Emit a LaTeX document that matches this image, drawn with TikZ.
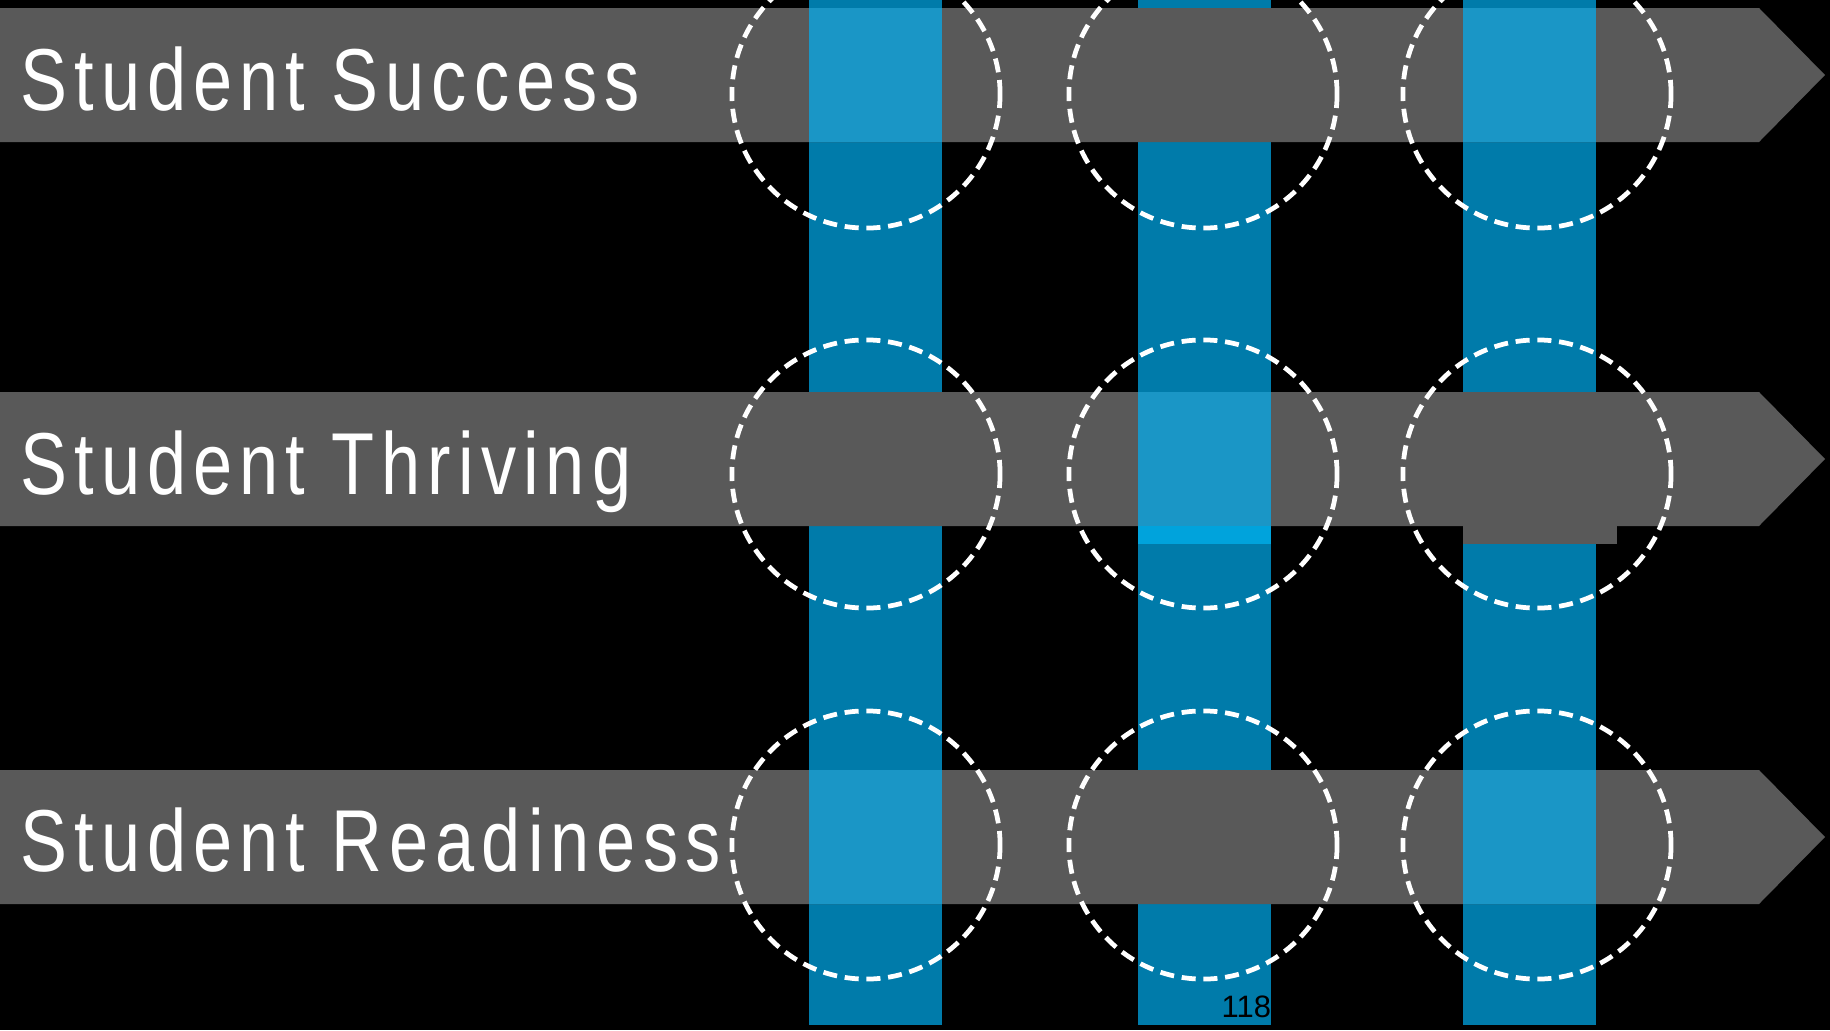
\documentclass[tikz,border=0pt]{standalone}
\usepackage{fontspec}
\setmainfont{Liberation Sans}
\newfontfamily\barfont[FakeStretch=0.8, LetterSpace=8]{Liberation Sans}
\usepackage{tikz}
\definecolor{bargray}{HTML}{595959}
\definecolor{coldark}{HTML}{007BAA}
\definecolor{collight}{HTML}{1A96C6}
\definecolor{colbright}{HTML}{00A3DC}
\tikzset{
    barlabel/.style={anchor=base west, inner sep=0pt, text=white,
        font=\barfont\fontsize{25}{30}\selectfont},
    ring/.style={draw=white, line width=1.35pt, dash pattern=on 4pt off 2.2pt}
}

\begin{document}
\begin{tikzpicture}[x=0.01cm, y=-0.01cm]
    \useasboundingbox (0,0) rectangle (1830,1030);
    \clip (0,0) rectangle (1830,1030);
    \fill[black] (0,0) rectangle (1830,1030);
    \foreach \cx in {809,1138,1463}
        \fill[coldark] (\cx,0) rectangle ++(133,1025);
    \foreach \by in {8,392,770}
        \fill[bargray] (0,\by) -- (1759,\by) -- (1825,\by+67) -- (1759,\by+134) -- (0,\by+134) -- cycle;
    \foreach \cx/\by in {809/8, 1463/8, 1138/392, 809/770, 1463/770}
        \fill[collight] (\cx,\by) rectangle ++(133,134);
    \fill[colbright] (1138,526) rectangle (1271,544);
    \fill[bargray] (1463,392) rectangle (1617,544);
    \foreach \cx in {866,1203,1537}
        \foreach \cy in {94,474,845}
            \draw[ring] (\cx,\cy) circle[radius=1.34cm];
    \node[barlabel] (success) at (20,110) {Student Success};
    \node[barlabel] (thriving) at (20,494) {Student Thriving};
    \node[barlabel] (readiness) at (20,871) {Student Readiness};
    \node[anchor=base west, inner sep=0pt, font=\fontsize{8.8}{10}\selectfont] (pagenum) at (1221,1017) {118};
\end{tikzpicture}
\end{document}
